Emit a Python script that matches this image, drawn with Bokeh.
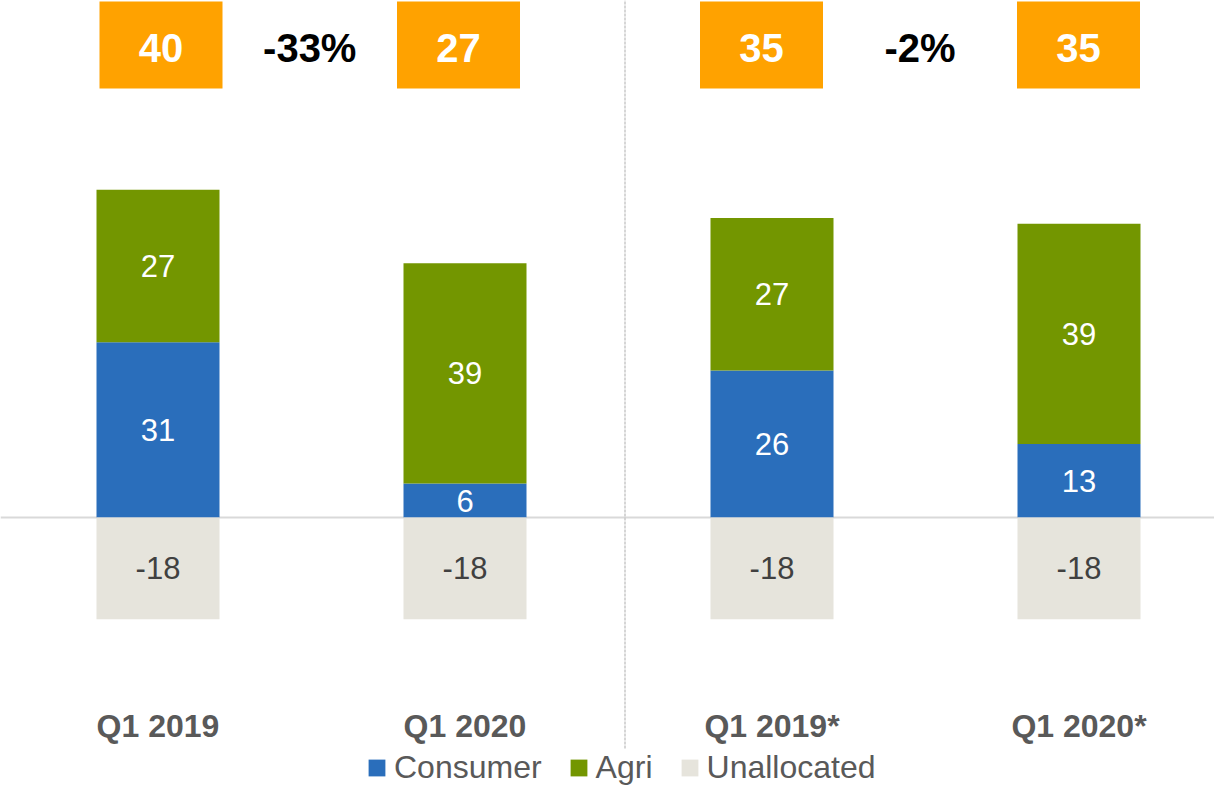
from bokeh.plotting import figure
from bokeh.models import Range1d, ColumnDataSource, Span, Legend, LegendItem
from bokeh.core.properties import value
from bokeh.embed import file_html
from bokeh.resources import INLINE

# ---- data ----
categories = ["Q1 2019", "Q1 2020", "Q1 2019*", "Q1 2020*"]
consumer = [31, 6, 26, 13]
agri = [27, 39, 27, 39]
unallocated = [-18, -18, -18, -18]
totals = [40, 27, 35, 35]
changes = ["-33%", "-2%"]

# ---- layout ----
W, H = 1214, 786
SLOT = 307.0          # px between bar centres
FIRST = 157.5         # px of first bar centre
ZERO = 517.0          # px (from top) of value 0
PX = 5.65             # px per unit
BAR_W = 123 / SLOT
BOX_OFF = [3, -6.5, -10.5, -0.5]   # px shift of total boxes vs bars
FONT = "Liberation Sans"

BLUE, GREEN, BEIGE, ORANGE = "#2A6EBB", "#739600", "#E6E4DC", "#FFA200"


def ydata(px):
    return (ZERO - px) / PX


idx = list(range(len(categories)))
agri_top = [c + a for c, a in zip(consumer, agri)]

src = ColumnDataSource(dict(
    x=idx, cons=consumer, agri_top=agri_top, unal=unallocated,
    cons_mid=[c / 2 for c in consumer],
    agri_mid=[c + a / 2 for c, a in zip(consumer, agri)],
    unal_mid=[u / 2 for u in unallocated],
    cons_lbl=[str(v) for v in consumer],
    agri_lbl=[str(v) for v in agri],
    unal_lbl=[str(v) for v in unallocated],
    cat=categories,
    cat_y=[ydata(725)] * len(categories),
))

x0 = -FIRST / SLOT
x1 = (W - FIRST) / SLOT
y1 = ydata(0)
y0 = ydata(H)

p = figure(width=W, height=H, x_range=Range1d(x0, x1), y_range=Range1d(y0, y1),
           x_axis_type=None, y_axis_type=None, toolbar_location=None,
           output_backend="svg", min_border=0, outline_line_color=None)
p.xgrid.visible = False
p.ygrid.visible = False

# zero line and separator
p.add_layout(Span(location=0, dimension="width", line_color="#D9D9D9",
                  line_width=2, level="underlay"))
sep_x = (624.5 - FIRST) / SLOT
p.segment(x0=[sep_x], x1=[sep_x], y0=[ydata(748)], y1=[y1 + 2],
          line_color="#C8C8C8", line_width=1.5, line_dash="3 1")

r_cons = p.vbar(x="x", bottom=0, top="cons", width=BAR_W, source=src,
                fill_color=BLUE, line_color=None)
r_agri = p.vbar(x="x", bottom="cons", top="agri_top", width=BAR_W, source=src,
                fill_color=GREEN, line_color=None)
r_unal = p.vbar(x="x", bottom="unal", top=0, width=BAR_W, source=src,
                fill_color=BEIGE, line_color=None)

common = dict(text_align="center", text_baseline="middle",
              text_font=value(FONT), source=src)
p.text(x="x", y="cons_mid", text="cons_lbl", text_color="white",
       text_font_size="31px", **common)
p.text(x="x", y="agri_mid", text="agri_lbl", text_color="white",
       text_font_size="31px", **common)
p.text(x="x", y="unal_mid", text="unal_lbl", text_color="#404040",
       text_font_size="31px", **common)
p.text(x="x", y="cat_y", text="cat", text_color="#595959",
       text_font_size="32px", text_font_style="bold", **common)

# total boxes
box_x = [i + o / SLOT for i, o in zip(idx, BOX_OFF)]
box_y = ydata(44.5)
txt_y = ydata(47)
bsrc = ColumnDataSource(dict(x=box_x, y=[box_y] * len(totals),
                             ty=[txt_y] * len(totals),
                             t=[str(v) for v in totals]))
p.rect(x="x", y="y", width=123, height=87, width_units="screen",
       height_units="screen", fill_color=ORANGE, line_color=None, source=bsrc)
p.text(x="x", y="ty", text="t", text_color="white", text_font=value(FONT),
       text_font_size="40px", text_font_style="bold", text_align="center",
       text_baseline="middle", source=bsrc)

chg_x = [(box_x[0] + box_x[1]) / 2, (box_x[2] + box_x[3]) / 2]
csrc = ColumnDataSource(dict(x=chg_x, y=[txt_y] * 2, t=changes))
p.text(x="x", y="y", text="t", text_color="black", text_font=value(FONT),
       text_font_size="40px", text_font_style="bold", text_align="center",
       text_baseline="middle", source=csrc)

legend = Legend(items=[LegendItem(label="Consumer", renderers=[r_cons]),
                       LegendItem(label="Agri", renderers=[r_agri]),
                       LegendItem(label="Unallocated", renderers=[r_unal])],
                orientation="horizontal", location=(366, 0),
                glyph_width=21, glyph_height=21, label_standoff=7, spacing=26,
                padding=0, margin=0, border_line_color=None,
                background_fill_alpha=0, label_text_font=FONT,
                label_text_font_size="32px", label_text_color="#595959")
p.add_layout(legend)

open("out.html", "w").write(file_html(p, INLINE))
